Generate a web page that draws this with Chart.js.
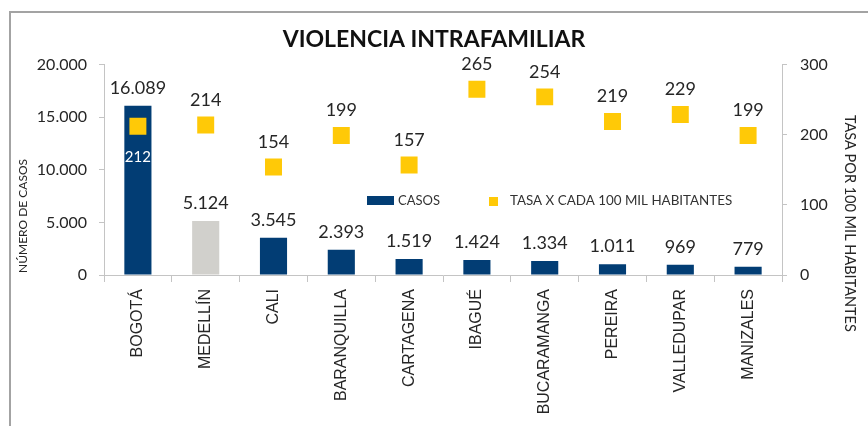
<!DOCTYPE html>
<html>
<head>
<meta charset="utf-8">
<script src="https://cdn.jsdelivr.net/npm/chart.js@4/dist/chart.umd.min.js"></script>
<style>
html,body{margin:0;padding:0;background:#fff;}
#wrap{position:absolute;left:0;top:0;width:868px;height:426px;}
</style>
</head>
<body>
<div id="wrap"><canvas id="c" width="868" height="426"></canvas></div>
<script>
const categories = ['BOGOTÁ','MEDELLÍN','CALI','BARANQUILLA','CARTAGENA','IBAGUÉ','BUCARAMANGA','PEREIRA','VALLEDUPAR','MANIZALES'];
const casos = [16089, 5124, 3545, 2393, 1519, 1424, 1334, 1011, 969, 779];
const tasa = [212, 214, 154, 199, 157, 265, 254, 219, 229, 199];
const leftTicks = [0, 5000, 10000, 15000, 20000];
const rightTicks = [0, 100, 200, 300];
const titleText = 'VIOLENCIA INTRAFAMILIAR';
const casosLabel = 'CASOS';
const tasaLabel = 'TASA X CADA 100 MIL HABITANTES';
const leftAxisTitle = 'NÚMERO DE CASOS';
const rightAxisTitle = 'TASA POR 100 MIL HABITANTES';

const BLUE = '#023d74';
const GRAY = '#d1d0cc';
const YELLOW = '#ffc907';
const AXIS = '#c4c4c4';
const TXT = '#262626';
const NUMFONT = 'Lato, "Open Sans", sans-serif';

function fmt(v){ return String(v).replace(/\B(?=(\d{3})+(?!\d))/g, '.'); }

const barColors = categories.map((c,i)=> i===1 ? GRAY : BLUE);

const framePlugin = {
  id:'frame',
  beforeDraw(chart){
    const ctx = chart.ctx;
    ctx.save();
    ctx.fillStyle = '#fff';
    ctx.fillRect(0,0,chart.width,chart.height);
    ctx.strokeStyle = '#a3a3a3';
    ctx.lineWidth = 2;
    ctx.beginPath();
    ctx.moveTo(10, chart.height);
    ctx.lineTo(10, 12);
    ctx.lineTo(chart.width, 12);
    ctx.stroke();
    ctx.restore();
  }
};

const labelPlugin = {
  id:'valueLabels',
  afterDatasetsDraw(chart){
    const ctx = chart.ctx;
    const barMeta = chart.getDatasetMeta(0);
    const ptMeta = chart.getDatasetMeta(1);
    ctx.save();
    ctx.textAlign = 'center';
    ctx.textBaseline = 'middle';
    barMeta.data.forEach((bar,i)=>{
      ctx.fillStyle = TXT;
      ctx.font = '18px ' + NUMFONT;
      ctx.fillText(fmt(chart.data.datasets[0].data[i]), bar.x, bar.y - 18);
    });
    ptMeta.data.forEach((pt,i)=>{
      const bar = barMeta.data[i];
      const inside = pt.y > bar.y;
      if (inside) {
        ctx.fillStyle = '#ffffff';
        ctx.font = '15px ' + NUMFONT;
        ctx.fillText(fmt(chart.data.datasets[1].data[i]), pt.x, pt.y + 31);
      } else {
        ctx.fillStyle = TXT;
        ctx.font = '18px ' + NUMFONT;
        ctx.fillText(fmt(chart.data.datasets[1].data[i]), pt.x, pt.y - 25);
      }
    });
    ctx.restore();
  }
};

const extrasPlugin = {
  id:'extras',
  afterDraw(chart){
    const ctx = chart.ctx;
    const ds = chart.data.datasets;
    ctx.save();
    // legend
    ctx.font = '13px ' + NUMFONT;
    ctx.textBaseline = 'middle';
    ctx.textAlign = 'left';
    ctx.fillStyle = BLUE;
    ctx.fillRect(367, 196, 27, 9);
    ctx.fillStyle = '#333';
    ctx.fillText(ds[0].label, 398, 201);
    ctx.fillStyle = YELLOW;
    ctx.fillRect(489, 197, 9, 9);
    ctx.fillStyle = '#333';
    ctx.font = '13.4px ' + NUMFONT;
    ctx.fillText(ds[1].label, 510, 201);
    // axis titles
    ctx.fillStyle = TXT;
    ctx.font = '12px ' + NUMFONT;
    ctx.save();
    ctx.translate(23, 273);
    ctx.rotate(-Math.PI/2);
    ctx.textAlign = 'left';
    ctx.fillText(leftAxisTitle, 0, 0);
    ctx.restore();
    ctx.font = '14.5px ' + NUMFONT;
    ctx.save();
    ctx.translate(850, 115);
    ctx.rotate(Math.PI/2);
    ctx.textAlign = 'left';
    ctx.fillText(rightAxisTitle, 0, 0);
    ctx.restore();
    ctx.restore();
  }
};

new Chart(document.getElementById('c'), {
  data: {
    labels: categories,
    datasets: [
      {
        type:'bar',
        label: casosLabel,
        data: casos,
        backgroundColor: barColors,
        borderWidth: 0,
        categoryPercentage: 1,
        barPercentage: 0.4,
        yAxisID: 'y',
        order: 2
      },
      {
        type:'line',
        label: tasaLabel,
        data: tasa,
        showLine: false,
        pointStyle: 'rect',
        pointRadius: 12,
        pointHoverRadius: 12,
        pointBackgroundColor: YELLOW,
        pointBorderColor: YELLOW,
        pointBorderWidth: 0,
        yAxisID: 'y1',
        order: 1
      }
    ]
  },
  options: {
    responsive: false,
    animation: false,
    events: [],
    layout: { padding: 0 },
    plugins: {
      legend: { display: false },
      tooltip: { enabled: false },
      title: {
        display: true,
        text: titleText,
        color: '#111',
        font: { family: NUMFONT, size: 23, weight: 'bold', lineHeight: 1.2 },
        padding: { top: 26, bottom: 11 }
      }
    },
    scales: {
      x: {
        offset: true,
        grid: { display: true, drawOnChartArea: false, drawTicks: true, tickLength: 7, color: AXIS, offset: true },
        border: { display: true, color: AXIS, width: 1 },
        ticks: {
          maxRotation: 90, minRotation: 90, autoSkip: false, padding: 7,
          color: TXT,
          font: { family: '"Liberation Sans", Arial, sans-serif', size: 16 }
        },
        afterFit(s){ s.height = 151; }
      },
      y: {
        position: 'left',
        min: 0, max: 20000,
        afterBuildTicks(s){ s.ticks = leftTicks.map(v=>({value:v})); },
        grid: { display: true, drawOnChartArea: false, drawTicks: true, tickLength: 5, color: AXIS },
        border: { display: true, color: AXIS, width: 1 },
        ticks: {
          padding: 12, color: TXT,
          font: { family: NUMFONT, size: 16 },
          callback: (v)=> fmt(v)
        },
        afterFit(s){ s.width = 104; }
      },
      y1: {
        position: 'right',
        min: 0, max: 300,
        afterBuildTicks(s){ s.ticks = rightTicks.map(v=>({value:v})); },
        grid: { display: true, drawOnChartArea: false, drawTicks: true, tickLength: 5, color: AXIS },
        border: { display: true, color: AXIS, width: 1 },
        ticks: {
          padding: 13, color: TXT,
          font: { family: NUMFONT, size: 16 },
          callback: (v)=> fmt(v)
        },
        afterFit(s){ s.width = 86; }
      }
    }
  },
  plugins: [framePlugin, labelPlugin, extrasPlugin]
});
</script>
</body>
</html>
